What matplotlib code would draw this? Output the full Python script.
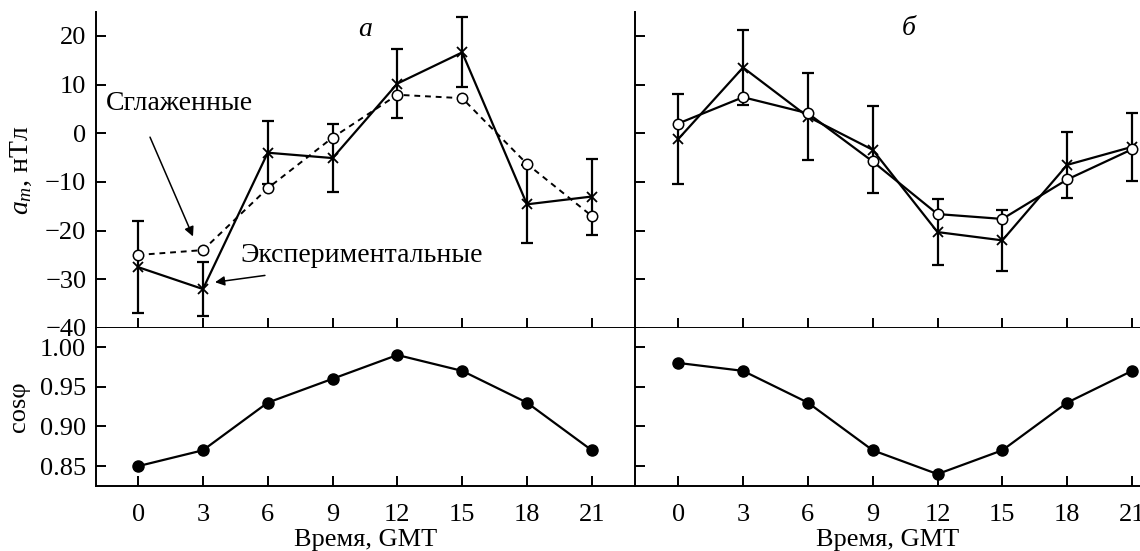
import numpy as np
import matplotlib
matplotlib.use("Agg")
import matplotlib.pyplot as plt

SERIF = ['Liberation Serif', 'DejaVu Serif']
plt.rcParams['font.family'] = SERIF
plt.rcParams['mathtext.fontset'] = 'custom'
plt.rcParams['mathtext.rm'] = 'Liberation Serif'
plt.rcParams['mathtext.it'] = 'Liberation Serif:italic'
plt.rcParams['font.size'] = 19

# hours GMT
hours = [0, 3, 6, 9, 12, 15, 18, 21]

# panel a
exp_a = [-27.5, -32.0, -4.0, -5.1, 10.2, 16.6, -14.6, -13.0]
err_a = [9.5, 5.6, 6.5, 6.9, 7.1, 7.2, 8.0, 7.8]
smooth_a = [-25.0, -24.0, -11.3, -0.9, 7.9, 7.2, -6.3, -17.0]
cos_a = [0.85, 0.87, 0.93, 0.96, 0.99, 0.97, 0.93, 0.87]

# panel б
exp_b = [-1.2, 13.5, 3.4, -3.4, -20.3, -22.0, -6.5, -2.8]
err_b = [9.3, 7.8, 8.9, 8.9, 6.7, 6.2, 6.8, 7.0]
smooth_b = [2.0, 7.4, 4.1, -5.8, -16.6, -17.6, -9.5, -3.3]
cos_b = [0.98, 0.97, 0.93, 0.87, 0.84, 0.87, 0.93, 0.97]

fig = plt.figure(figsize=(11.4, 5.51), dpi=100)

W, H = 1140, 551
def box(x0, y0, x1, y1):
    return [x0 / W, 1 - y1 / H, (x1 - x0) / W, (y1 - y0) / H]

ax_a = fig.add_axes(box(96, 12, 635, 328))
ax_b = fig.add_axes(box(635, 12, 1140, 328))
ax_ca = fig.add_axes(box(96, 328, 635, 486))
ax_cb = fig.add_axes(box(635, 328, 1140, 486))

for ax in (ax_a, ax_b, ax_ca, ax_cb):
    for s in ('top', 'right'):
        ax.spines[s].set_visible(False)
    for s in ('left', 'bottom'):
        ax.spines[s].set_linewidth(1.4)
    ax.tick_params(direction='in', length=7, width=1.4, labelsize=19)
    ax.set_xticks(hours)

ax_a.set_xlim(-1.95, 23.0)
ax_b.set_xlim(-2.0, 21.37)
ax_ca.set_xlim(-1.95, 23.0)
ax_cb.set_xlim(-2.0, 21.37)

for ax in (ax_a, ax_b):
    ax.set_ylim(-40, 24.9)
    ax.set_yticks([-40, -30, -20, -10, 0, 10, 20])
    ax.tick_params(axis='x', labelbottom=False)
for ax in (ax_ca, ax_cb):
    ax.set_ylim(0.825, 1.024)
    ax.set_yticks([0.85, 0.90, 0.95, 1.00])
    ax.yaxis.set_major_formatter(matplotlib.ticker.FormatStrFormatter('%.2f'))
    ax.tick_params(axis='x', pad=13)
    ax.set_xlabel('Время, GMT', fontsize=19, labelpad=2, family=SERIF)
ax_b.tick_params(axis='y', labelleft=False)
ax_cb.tick_params(axis='y', labelleft=False)
ax_a.tick_params(axis='y', pad=7)
ax_ca.tick_params(axis='y', pad=7)

# panel a: experimental + smoothed
ax_a.errorbar(hours, exp_a, yerr=err_a, fmt='none', ecolor='black',
              elinewidth=1.6, capsize=4, capthick=1.6, zorder=2)
ax_a.plot(hours, exp_a, color='black', lw=1.6, marker='x', ms=7.5, mew=1.3, zorder=3)
ax_a.plot(hours, smooth_a, color='black', lw=1.4, ls=(0, (3, 2.5)), marker='o', ms=7.5,
          mfc='white', mec='black', mew=1.1, zorder=4)

# panel б
ax_b.errorbar(hours, exp_b, yerr=err_b, fmt='none', ecolor='black',
              elinewidth=1.6, capsize=4, capthick=1.6, zorder=2)
ax_b.plot(hours, exp_b, color='black', lw=1.6, marker='x', ms=7.5, mew=1.3, zorder=3,
          clip_on=False)
ax_b.plot(hours, smooth_b, color='black', lw=1.6, marker='o', ms=7.5,
          mfc='white', mec='black', mew=1.1, zorder=4, clip_on=False)

# cos phi
ax_ca.plot(hours, cos_a, color='black', lw=1.6, marker='o', ms=8)
ax_cb.plot(hours, cos_b, color='black', lw=1.6, marker='o', ms=8, clip_on=False)

ax_a.set_ylabel('$a_m$, нТл', fontsize=20, family=SERIF)
ax_a.yaxis.set_label_coords(-0.115, 0.5)
ax_ca.set_ylabel('cosφ', fontsize=19, family=SERIF)
ax_ca.yaxis.set_label_coords(-0.122, 0.5)

for ax in (ax_a, ax_b, ax_ca, ax_cb):
    for lab in ax.get_xticklabels() + ax.get_yticklabels():
        lab.set_fontfamily(SERIF)

ax_a.text(10.5, 21.3, 'а', style='italic', fontsize=20, ha='center', va='center')
ax_b.text(10.65, 21.5, 'б', style='italic', fontsize=20, ha='center', va='center')

ax_a.text(-1.48, 6.2, 'Сглаженные', fontsize=20, ha='left', va='center')
ax_a.annotate('', xy=(2.54, -21.2), xytext=(0.55, -0.8),
              arrowprops=dict(arrowstyle='-|>', color='black', lw=1.1,
                              mutation_scale=14,
                              shrinkA=0, shrinkB=0))
ax_a.text(4.75, -25.1, 'Экспериментальные', fontsize=20, ha='left', va='center')
ax_a.annotate('', xy=(3.56, -30.6), xytext=(5.87, -29.2),
              arrowprops=dict(arrowstyle='-|>', color='black', lw=1.1,
                              mutation_scale=14,
                              shrinkA=0, shrinkB=0))

fig.savefig('out.png', dpi=100)
